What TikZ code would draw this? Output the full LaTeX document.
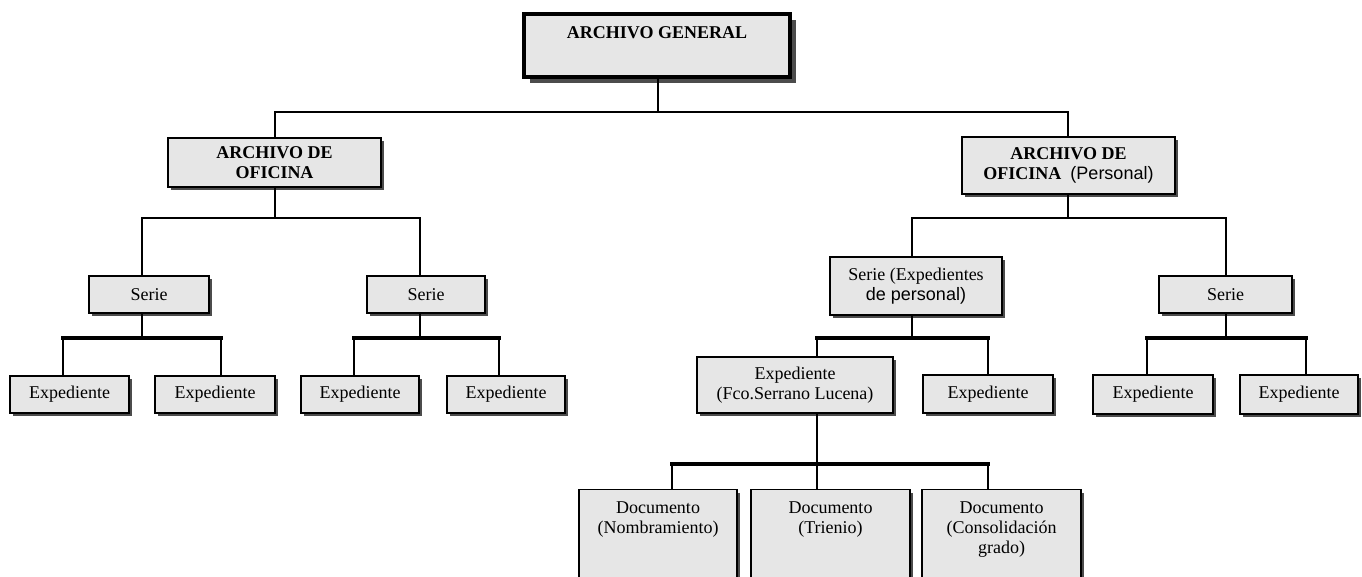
\documentclass[tikz,border=0pt]{standalone}
\usepackage{fontspec}
\setmainfont{Liberation Serif}
\newfontfamily\personalfont{Liberation Sans}
\usepackage{tikz}
\usetikzlibrary{shadows}
\definecolor{boxgray}{RGB}{230,230,230}
\def\ArchivoHeader#1{%
 \tikzset{x=#1, y=-#1,
     box base/.style={draw=black, fill=boxgray, align=center, inner sep=0pt,
           font=\fontsize{9}{10}\selectfont},
     org box/.style={box base, line width=0.6pt,
           drop shadow={shadow xshift=1.5pt, shadow yshift=-1.5pt, fill=black!70, opacity=1}},
     top box/.style={box base, line width=2pt,
           drop shadow={shadow xshift=3pt, shadow yshift=-3pt, fill=black!70, opacity=1}},
     tree line/.style={draw=black, line width=0.8pt},
     bus line/.style={tree line, line width=1.1pt, line cap=rect},
     heavy bus/.style={tree line, line width=1.9pt, line cap=rect}
     }
  \useasboundingbox (0,0) rectangle (1362,577);
  \clip (0,0) rectangle (1362,577);
}
\def\OrgBox#1#2#3#4#5#6{%
\node (#1) [org box, minimum width={(#4-#2)*0.5pt}, minimum height={(#5-#3)*0.5pt}]
  at ({(#2+#4)/2},{(#3+#5)/2}) {#6};
}
\def\DocBox#1#2#3#4{%
\node (#1) [org box, anchor=north, minimum width={(#3-#2)*0.5pt}, inner ysep=6pt]
  at ({(#2+#3)/2},489) {\parbox[t][54pt][t]{74pt}{\centering #4}};
}
\def\Drop#1#2#3{%
\coordinate (#1-dn) at (#2,#3);
\draw[tree line] (#1-dn) -- (#1-dn |- #1.north);
}
\def\Rise#1#2#3{%
\coordinate (#1-up) at (#2,#3);
\draw[tree line] (#1-up |- #1.south) -- (#1-up);
}
\begin{document}
\begin{tikzpicture}
\ArchivoHeader{0.5pt}
\node (gen) [top box, anchor=north, minimum width=133pt, text height=12.5pt, text depth=19pt]
  at (657,12) {\textbf{ARCHIVO GENERAL}};
\OrgBox{ao1}{168}{138}{381}{187}{\textbf{ARCHIVO DE}\\\textbf{OFICINA}}
\OrgBox{ao2}{962}{137}{1175}{194}{\textbf{ARCHIVO DE}\\\textbf{OFICINA}\ \ {\personalfont(Personal)}}
\OrgBox{s1}{89}{276}{209}{313}{Serie}
\OrgBox{s2}{367}{276}{485}{313}{Serie}
\OrgBox{se}{830}{257}{1002}{315}{Serie (Expedientes\\{\personalfont de personal)}}
\OrgBox{s3}{1159}{276}{1292}{313}{Serie}
\OrgBox{e1}{10}{376}{129}{413}{Expediente}
\OrgBox{e2}{155}{376}{275}{413}{Expediente}
\OrgBox{e3}{301}{376}{419}{413}{Expediente}
\OrgBox{e4}{447}{376}{565}{413}{Expediente}
\OrgBox{fco}{697}{357}{893}{413}{Expediente\\(Fco.Serrano Lucena)}
\OrgBox{e5}{923}{375}{1053}{413}{Expediente}
\OrgBox{e6}{1093}{375}{1213}{414}{Expediente}
\OrgBox{e7}{1240}{375}{1358}{414}{Expediente}
\DocBox{d1}{579}{737}{Documento\\(Nombramiento)}
\DocBox{d2}{751}{910}{Documento\\(Trienio)}
\DocBox{d3}{922}{1081}{Documento\\(Consolidación\\grado)}
% level 1
\Rise{gen}{658}{112}
\Drop{ao1}{275}{112}
\Drop{ao2}{1068}{112}
\draw[bus line] (ao1-dn) -- (ao2-dn);
% level 2
\Rise{ao1}{275}{218}
\Drop{s1}{142}{218}
\Drop{s2}{420}{218}
\draw[bus line] (s1-dn) -- (s2-dn);
\Rise{ao2}{1068}{218}
\Drop{se}{912}{218}
\Drop{s3}{1226}{218}
\draw[bus line] (se-dn) -- (s3-dn);
% level 3
\Rise{s1}{142}{338}
\Drop{e1}{63}{338}
\Drop{e2}{221}{338}
\draw[heavy bus] (e1-dn) -- (e2-dn);
\Rise{s2}{420}{338}
\Drop{e3}{354}{338}
\Drop{e4}{499}{338}
\draw[heavy bus] (e3-dn) -- (e4-dn);
\Rise{se}{912}{338}
\Drop{fco}{817}{338}
\Drop{e5}{988}{338}
\draw[heavy bus] (fco-dn) -- (e5-dn);
\Rise{s3}{1226}{338}
\Drop{e6}{1147}{338}
\Drop{e7}{1306}{338}
\draw[heavy bus] (e6-dn) -- (e7-dn);
% level 4
\Rise{fco}{817}{464}
\Drop{d1}{672}{464}
\Drop{d2}{817}{464}
\Drop{d3}{988}{464}
\draw[heavy bus] (d1-dn) -- (d3-dn);
\end{tikzpicture}
\end{document}
